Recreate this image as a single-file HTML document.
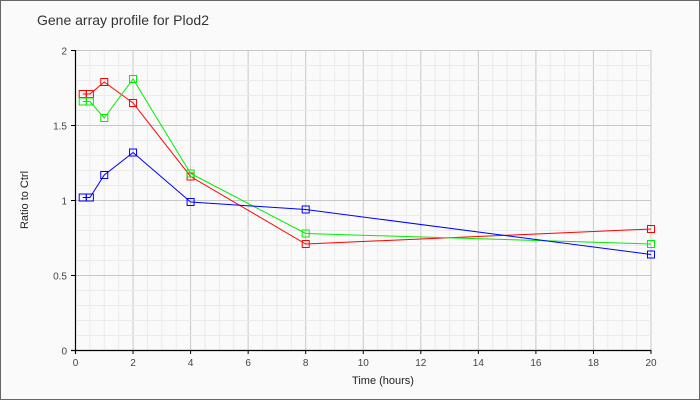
<!DOCTYPE html>
<html><head><style>body{margin:0}svg{display:block}</style></head><body>
<svg width="700" height="400" xmlns="http://www.w3.org/2000/svg" font-family="Liberation Sans, sans-serif">
<rect x="0.5" y="0.5" width="699" height="399" fill="#fafafa" stroke="#666"/>
<text x="37" y="25" font-size="14" fill="#333">Gene array profile for Plod2</text>
<g id="g"></g>
<line x1="75.5" y1="50" x2="75.5" y2="354" stroke="#000" stroke-width="1.2"/>
<line x1="71" y1="350.5" x2="651" y2="350.5" stroke="#000" stroke-width="1.2"/>
<g font-size="10" fill="#444" id="t"></g>
<text x="383" y="384" font-size="11" text-anchor="middle" fill="#222">Time (hours)</text>
<text transform="translate(28,200) rotate(-90)" font-size="11" text-anchor="middle" fill="#222">Ratio to Ctrl</text>
<g id="s"></g>
</svg>
<script>
const X=v=>75.5+v*28.775, Y=v=>350.5-v*150;
let h='';
for(let i=1;i<=40;i++){const x=X(i/2);h+=`<line x1="${x}" y1="50" x2="${x}" y2="350" stroke="${i%4==0?'#c8c8c8':'#ebebeb'}"/>`;}
for(let i=1;i<=20;i++){const y=Y(i/10);h+=`<line x1="76" y1="${y}" x2="651" y2="${y}" stroke="${i%5==0?'#c8c8c8':'#ebebeb'}"/>`;}
document.getElementById('g').innerHTML=h;
let t='';
for(let i=0;i<=20;i+=2){t+=`<line x1="${X(i)}" y1="350" x2="${X(i)}" y2="354" stroke="#000"/><text x="${X(i)}" y="366" text-anchor="middle">${i}</text>`;}
for(let i=0;i<=4;i++){const v=i/2;t+=`<line x1="71" y1="${Y(v)}" x2="76" y2="${Y(v)}" stroke="#000"/><text x="67" y="${Y(v)+4}" text-anchor="end">${v}</text>`;}
document.getElementById('t').innerHTML=t;
const xs=[0.25,0.5,1,2,4,8,20];
const S=[["#f00",[1.71,1.71,1.79,1.65,1.16,0.71,0.81]],["#0e0",[1.66,1.66,1.55,1.81,1.18,0.78,0.71]],["#00f",[1.02,1.02,1.17,1.32,0.99,0.94,0.64]]];
let s='';
for(const [c,d] of S){s+=`<polyline fill="none" stroke="${c}" points="${d.map((v,i)=>X(xs[i])+','+Y(v)).join(' ')}"/>`;
d.forEach((v,i)=>{s+=`<rect x="${X(xs[i])-3.5}" y="${Y(v)-3.5}" width="7" height="7" fill="none" stroke="${c}"/>`;});}
document.getElementById('s').innerHTML=s;
</script>
</body></html>
